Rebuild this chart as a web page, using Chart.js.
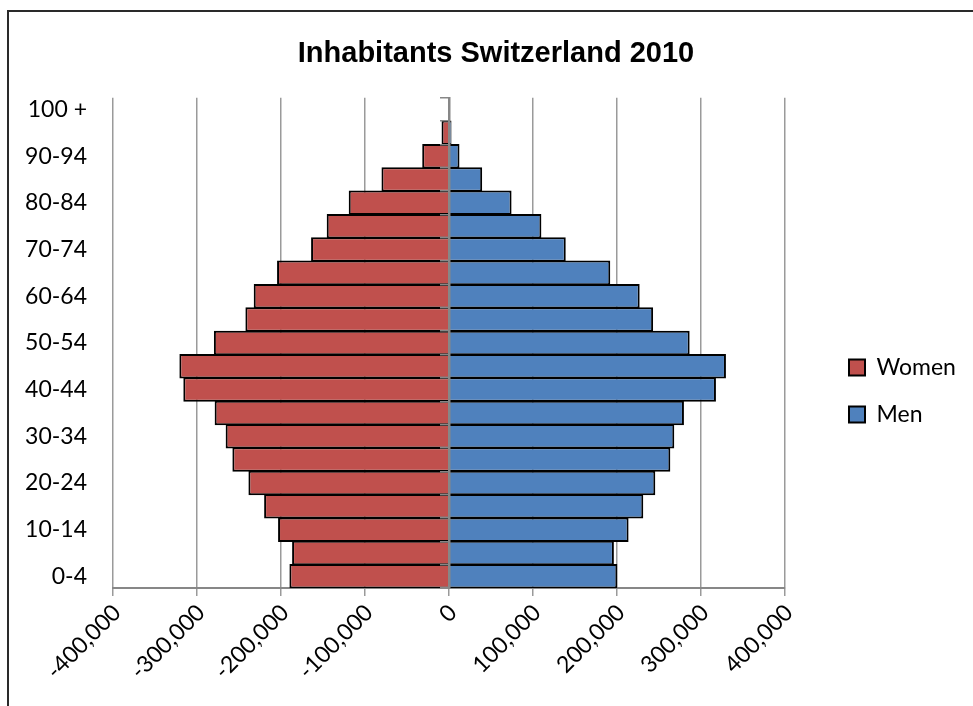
<!DOCTYPE html>
<html>
<head>
<meta charset="utf-8">
<title>Inhabitants Switzerland 2010</title>
<script src="https://cdn.jsdelivr.net/npm/chart.js@4.4.1/dist/chart.umd.min.js"></script>
<style>
  html, body { margin: 0; padding: 0; background: #fff; overflow: hidden; }
  #wrap { position: relative; width: 973px; height: 706px; }
  canvas { display: block; }
  /* chart frame: only its top and left edges fall inside the page */
  #frame {
    position: absolute; left: 7px; top: 10px; width: 1000px; height: 800px;
    border-left: 2px solid #2a2a2a; border-top: 2px solid #2a2a2a;
    pointer-events: none;
  }
</style>
</head>
<body>
<div id="wrap">
  <canvas id="pyramid" width="973" height="706"></canvas>
  <div id="frame"></div>
</div>
<script>
// Age groups, youngest first
const ageGroups = ['0-4', '5-9', '10-14', '15-19', '20-24', '25-29', '30-34', '35-39',
  '40-44', '45-49', '50-54', '55-59', '60-64', '65-69', '70-74', '75-79', '80-84',
  '85-89', '90-94', '95-99', '100 +'];

// Inhabitants per age group (women are drawn to the left of zero)
const womenCounts = [190000, 186800, 203500, 220100, 238800, 257900, 265900, 279000,
  316300, 321000, 279900, 242400, 232500, 204700, 164200, 145600, 119400, 80400,
  31900, 8900, 1100];
const menCounts = [200400, 196300, 213800, 231300, 245600, 263500, 268200, 279700,
  317800, 329700, 286500, 243000, 227000, 192000, 139000, 110000, 74500, 39500,
  12500, 3000, 300];

// Value axis ticks
const valueTicks = [-400000, -300000, -200000, -100000, 0, 100000, 200000, 300000, 400000];

const labelFont = { family: 'Lato', size: 23 };
const legendPadding = 24;
const legendBox = 16;

// Plot edges wanted on the page
const plotLeft = 113, plotRight = 785, plotBottom = 588;

// Leave exactly enough room on the right for the legend column
const measureCtx = document.createElement('canvas').getContext('2d');
measureCtx.font = `${labelFont.size}px ${labelFont.family}`;
const longestLegendText = Math.max(...['Women', 'Men'].map(s => measureCtx.measureText(s).width));
const legendWidth = legendPadding + legendBox + labelFont.size / 2 + longestLegendText + 10;
const rightPadding = Math.max(0, 973 - plotRight - legendWidth);

// Nudges the title and the legend to their places after layout
const placeBlocks = {
  id: 'placeBlocks',
  afterLayout(chart) {
    const t = chart.titleBlock;
    if (t) {
      const dx = 496 - (t.left + t.right) / 2;
      t.left += dx; t.right += dx;
    }
    const lg = chart.legend;
    if (lg && lg.columnSizes && lg.columnSizes.length) {
      const dx = (chart.chartArea.right + 40) - lg.left;
      lg.left += dx; lg.right += dx;
      const startY = (lg.top + legendPadding + lg.bottom - lg.columnSizes[0].height) / 2;
      const dy = 356 - startY;
      lg.top += dy; lg.bottom += dy;
    }
  }
};

const axisGrey = '#878787';

new Chart(document.getElementById('pyramid'), {
  type: 'bar',
  data: {
    labels: ageGroups,
    datasets: [
      {
        label: 'Women',
        data: womenCounts.map(v => -v),
        backgroundColor: '#C0504D',
        borderColor: '#000000',
        borderWidth: 2,
        borderSkipped: 'start',
        categoryPercentage: 1,
        barPercentage: 1.05
      },
      {
        label: 'Men',
        data: menCounts,
        backgroundColor: '#4F81BD',
        borderColor: '#000000',
        borderWidth: 2,
        borderSkipped: 'start',
        categoryPercentage: 1,
        barPercentage: 1.05
      }
    ]
  },
  options: {
    indexAxis: 'y',
    responsive: false,
    animation: false,
    events: [],
    layout: { padding: { left: 0, top: 0, bottom: 0, right: rightPadding } },
    scales: {
      x: {
        type: 'linear',
        stacked: true,
        min: valueTicks[0],
        max: valueTicks[valueTicks.length - 1],
        afterBuildTicks(scale) { scale.ticks = valueTicks.map(v => ({ value: v })); },
        grid: { color: '#9a9a9a', lineWidth: 1.5, drawTicks: true, tickLength: 8 },
        border: { color: axisGrey, width: 2 },
        ticks: {
          autoSkip: false,
          minRotation: 45,
          maxRotation: 45,
          padding: 3,
          labelOffset: 4,
          color: '#000',
          font: labelFont,
          callback: v => Number(v).toLocaleString('en-US')
        },
        afterFit(scale) { scale.height = 706 - plotBottom; }
      },
      y: {
        type: 'category',
        stacked: true,
        reverse: true,
        grid: { display: false, drawTicks: false },
        border: { display: false },
        ticks: {
          autoSkip: false,
          padding: 26,
          color: '#000',
          font: labelFont,
          callback: (v, i) => (i % 2 === 0 ? ageGroups[i] : '')
        },
        afterFit(scale) { scale.width = plotLeft; }
      },
      // category axis crossing at zero, with its short tick marks
      yZero: {
        type: 'category',
        axis: 'y',
        position: { x: 0 },
        reverse: true,
        offset: true,
        grid: { offset: true, drawOnChartArea: false, drawTicks: true, tickLength: 8,
                color: axisGrey, lineWidth: 1.5, z: 1 },
        border: { display: true, color: axisGrey, width: 2.5, z: 1 },
        ticks: { display: false }
      }
    },
    plugins: {
      title: {
        display: true,
        text: 'Inhabitants Switzerland 2010',
        color: '#000',
        font: { family: 'Liberation Sans', size: 29, weight: 'bold' },
        padding: { top: 37, bottom: 26 }
      },
      legend: {
        display: true,
        position: 'right',
        labels: {
          color: '#000',
          font: labelFont,
          boxWidth: legendBox,
          boxHeight: legendBox,
          padding: legendPadding
        }
      },
      tooltip: { enabled: false }
    }
  },
  plugins: [placeBlocks]
});
</script>
</body>
</html>
